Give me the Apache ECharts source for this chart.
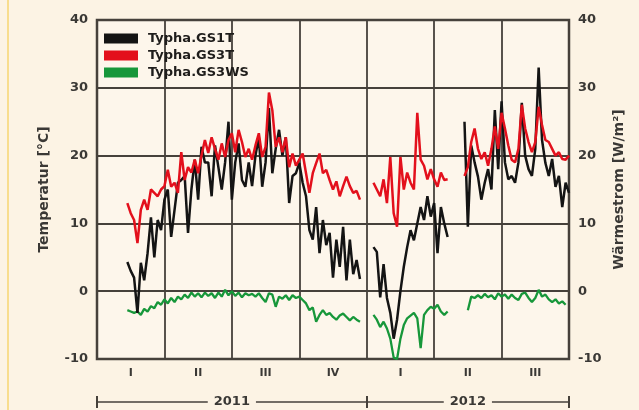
<!DOCTYPE html>
<html>
<head>
<meta charset="utf-8">
<script src="https://cdn.jsdelivr.net/npm/echarts@6/dist/echarts.min.js"></script>
<style>
  html, body { margin: 0; padding: 0; background: #fcf3e4; }
  #chart { width: 639px; height: 410px; }
</style>
</head>
<body>
<div id="chart"></div>
<script>
// Quarter labels along the time axis (2011 Q1 .. 2012 Q3)
const quarterLabels = ['I', 'II', 'III', 'IV', 'I', 'II', 'III'];
const years = ['2011', '2012'];
const yearStartQuarter = [0, 4];
const yearEndQuarter = [4, 7];

// Temperature / heat-flux ticks
const tickMin = -10;
const tickMax = 40;
const tickStep = 10;

// Samples are taken every 1/20 of a quarter, first one in mid-February 2011
const firstSampleQuarter = 0.45;
const samplesPerQuarter = 20;

const seriesNames = ['Typha.GS1T', 'Typha.GS3T', 'Typha.GS3WS'];

// Typha.GS1T temperature [°C]
const gs1t = [
  4.3, 3, 2, -3.2, 4.2, 1.6, 5.6, 10.9, 5, 10.5,
  9, 13.5, 15, 8, 12, 16, 16.4, 17, 8.6, 15,
  19.4, 13.5, 21.3, 19, 19, 14, 21.5, 18.3, 15, 19,
  25, 13.5, 19, 21.8, 16.4, 15.4, 19, 15.5, 20, 22.7,
  15.4, 19, 27, 17.4, 21, 23.8, 20, 22.7, 13, 17,
  17.4, 18.9, 16, 14, 9, 7.6, 12.4, 5.6, 10.5, 6.8,
  8.6, 2, 7.6, 3.6, 9.5, 1.6, 7.6, 2.5, 4.6, 1.8,
  null, null, null, 6.5, 5.8, -0.9, 4, -1, -3.2, -7,
  -4.2, 0, 3.6, 6.5, 9, 7.5, 10, 12.4, 10.5, 14,
  11, 13, 5.6, 12.4, 10, 8, null, null, null, null,
  25, 9.5, 21.5, 19, 16.9, 13.5, 16, 18, 15, 26.7,
  18, 28, 19, 16.5, 17, 16, 19, 27.8, 20, 18,
  17, 21, 33, 22.3, 18.9, 17, 19.5, 15.4, 17, 12.4,
  16, 14.5
];

// Typha.GS3T temperature [°C]
const gs3t = [
  13, 11.5, 10.5, 7.1, 12, 13.5, 12, 15, 14.5, 14,
  15, 15.5, 17.9, 15.4, 16, 14.5, 20.5, 16.4, 18.3, 17.5,
  19.4, 17.4, 20, 22.3, 20.4, 22.7, 21, 19.4, 21.8, 19.8,
  22.3, 23.3, 20.5, 23.8, 22, 19.8, 21, 19.4, 21.5, 23.3,
  19.8, 21.3, 29.3, 26.7, 21.3, 22.7, 20.5, 22.7, 18.3, 20.3,
  18.5, 19.4, 20.3, 17.4, 14.5, 17.4, 18.9, 20.3, 17.4, 17.9,
  16.4, 15, 16.2, 14, 15.5, 16.9, 15.5, 14.5, 14.8, 13.5,
  null, null, null, 16, 15, 14, 16.5, 13, 19.8, 11.5,
  9.5, 19.8, 15, 17.5, 16, 15, 26.3, 19.4, 18.5, 16.5,
  18, 16.5, 15.4, 17.5, 16.4, 16.5, null, null, null, null,
  17, 18.3, 22, 24, 21, 19.5, 20.5, 18.5, 21, 24.3,
  21, 26.3, 24, 21.5, 19.4, 19, 21, 27.5, 24, 22,
  20.5, 22, 27.2, 24.5, 22.3, 22, 21, 20, 20.5, 19.5,
  19.4, 20
];

// Typha.GS3WS heat flux [W/m²]
const gs3ws = [
  -2.8, -3, -3.2, -3.0, -3.5, -2.6, -3.0, -2.2, -2.5, -1.6,
  -2.0, -1.2, -1.8, -1.0, -1.6, -0.8, -1.2, -0.5, -1.0, -0.2,
  -0.8, -0.3, -0.9, -0.2, -0.7, -0.3, -1.0, -0.2, -0.8, 0.2,
  -0.6, 0, -0.7, -0.2, -0.9, -0.3, -0.6, -0.4, -0.8, -0.3,
  -1.0, -1.6, -0.3, -0.5, -2.3, -0.8, -1.1, -0.6, -1.3, -0.6,
  -1.0, -0.8, -1.3, -1.8, -2.8, -2.4, -4.5, -3.5, -2.8, -3.5,
  -3.2, -3.8, -4.2, -3.6, -3.3, -3.8, -4.3, -3.8, -4.2, -4.5,
  null, null, null, -3.5, -4.2, -5.3, -4.5, -5.5, -7, -9.8,
  -10, -7, -5, -4, -3.6, -3.2, -4, -8.4, -3.5, -2.8,
  -2.3, -2.6, -2.0, -3.0, -3.5, -3.0, null, null, null, null,
  null, -2.8, -0.8, -1.0, -0.6, -1.0, -0.4, -0.9, -0.6, -1.2,
  -0.3, -0.8, -0.5, -1.1, -0.5, -1.0, -1.3, -0.4, -0.2, -1.0,
  -1.6, -1.0, 0.2, -0.8, -0.5, -1.2, -1.6, -1.2, -1.8, -1.5,
  -2.0, null
];

const toPoints = values => values.map((v, i) => [firstSampleQuarter + i / samplesPerQuarter, v]);

const ink = '#46413b';
const labelColor = '#3a3835';
const bg = '#fcf3e4';
const font = 'DejaVu Sans';
const quarterCount = quarterLabels.length;
const yearMid = years.map((_, k) => (yearStartQuarter[k] + yearEndQuarter[k]) / 2);
const yearTicks = Array.from(new Set(yearStartQuarter.concat(yearEndQuarter)));

const chart = echarts.init(document.getElementById('chart'), null, { renderer: 'canvas' });

const valueAxisBase = {
  type: 'value', min: tickMin, max: tickMax, interval: tickStep,
  axisLine: { show: true, lineStyle: { color: ink, width: 2 } },
  axisTick: { show: false },
  axisLabel: { color: labelColor, fontFamily: font, fontWeight: 'bold', fontSize: 13, margin: 9 },
  nameLocation: 'middle', nameRotate: 90,
  nameTextStyle: { color: labelColor, fontFamily: font, fontWeight: 'bold', fontSize: 14 }
};

chart.setOption({
  backgroundColor: bg,
  animation: false,
  graphic: [{
    type: 'rect', left: 7, top: 0, z: 0,
    shape: { width: 2, height: 410 },
    style: { fill: '#f8dd8e' }
  }],
  grid: {
    left: 97, right: 70, top: 20, bottom: 51,
    show: true, backgroundColor: '#fdf6eb', borderColor: ink, borderWidth: 2.5
  },
  legend: {
    orient: 'vertical', left: 99, top: 27,
    icon: 'rect', itemWidth: 34, itemHeight: 10, itemGap: 4,
    data: seriesNames,
    textStyle: { color: '#1f1d1b', fontFamily: font, fontWeight: 'bold', fontSize: 13, padding: [0, 0, 0, 5] }
  },
  xAxis: [
    {
      type: 'value', min: 0, max: quarterCount, interval: 1,
      axisLine: { show: true, lineStyle: { color: ink, width: 2 } },
      axisTick: { show: false }, axisLabel: { show: false },
      splitLine: { show: true, lineStyle: { color: ink, width: 1.8 } }
    },
    {
      type: 'category', data: quarterLabels, position: 'bottom', boundaryGap: true,
      axisLine: { show: false }, axisTick: { show: false },
      axisLabel: { color: labelColor, fontFamily: font, fontWeight: 'bold', fontSize: 11, margin: 9 }
    },
    {
      type: 'value', min: 0, max: quarterCount, position: 'bottom', offset: 43,
      axisLine: { show: true, lineStyle: { color: ink, width: 1.5 } },
      axisTick: { show: true, customValues: yearTicks, length: 6, lineStyle: { color: ink, width: 2 } },
      splitLine: { show: false },
      axisLabel: {
        show: true, customValues: yearMid, margin: 0, verticalAlign: 'middle',
        formatter: v => years[yearMid.indexOf(v)] || '',
        color: labelColor, fontFamily: font, fontWeight: 'bold', fontSize: 13,
        backgroundColor: bg, padding: [0, 6, 0, 6]
      }
    },
    {
      type: 'value', min: 0, max: quarterCount, position: 'bottom', offset: 43,
      axisLine: { show: false },
      axisTick: { show: true, inside: true, customValues: yearTicks, length: 6, lineStyle: { color: ink, width: 2 } },
      splitLine: { show: false }, axisLabel: { show: false }
    }
  ],
  yAxis: [
    Object.assign({}, valueAxisBase, {
      position: 'left', name: 'Temperatur [°C]', nameGap: 46,
      splitLine: { show: true, lineStyle: { color: ink, width: 1.8 } }
    }),
    Object.assign({}, valueAxisBase, {
      position: 'right', name: 'Wärmestrom [W/m²]', nameGap: 30,
      splitLine: { show: false }
    })
  ],
  series: [
    {
      name: seriesNames[0], type: 'line', data: toPoints(gs1t), yAxisIndex: 0,
      showSymbol: false, color: '#141414', lineStyle: { width: 2.5 }, z: 3
    },
    {
      name: seriesNames[1], type: 'line', data: toPoints(gs3t), yAxisIndex: 0,
      showSymbol: false, color: '#e3101c', lineStyle: { width: 2.5 }, z: 4
    },
    {
      name: seriesNames[2], type: 'line', data: toPoints(gs3ws), yAxisIndex: 1,
      showSymbol: false, color: '#17973a', lineStyle: { width: 2.3 }, z: 2
    }
  ]
});
</script>
</body>
</html>
